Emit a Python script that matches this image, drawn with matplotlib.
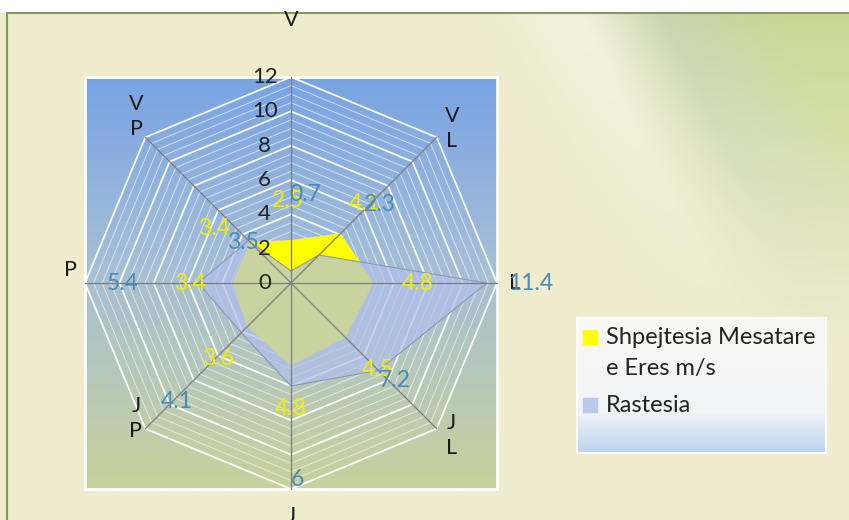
import numpy as np
import matplotlib.pyplot as plt
from matplotlib.patches import Rectangle

plt.rcParams['font.family'] = ['Lato', 'DejaVu Sans']

# wind rose data, clockwise from north
directions = ['V', 'VL', 'L', 'JL', 'J', 'JP', 'P', 'VP']
axis_labels = ['V', 'V\nL', 'L', 'J\nL', 'J', 'J\nP', 'P', 'V\nP']
speed = [2.5, 4.1, 4.8, 4.5, 4.8, 3.6, 3.4, 3.4]   # Shpejtesia Mesatare e Eres m/s
freq = [0.7, 2.3, 11.4, 7.2, 6, 4.1, 5.4, 3.5]     # Rastesia
r_ticks = [0, 2, 4, 6, 8, 10, 12]

# where the labels sit: (compass degrees, radius)
cat_pos = [(0, 15.3), (46.1, 13.0), (90, 13.0), (133.5, 12.9),
           (180, 13.6), (228.9, 12.0), (273.4, 12.85), (317.1, 13.25)]
speed_lab_pos = [(358, 4.83), (43, 6.3), (90, 7.4), (135, 7.15),
                 (180, 7.3), (224, 6.1), (270, 5.9), (305, 5.5)]
freq_lab_pos = [(9, 5.2), (48.4, 6.9), (90, 13.95), (133.3, 8.3),
                (178, 11.46), (224, 9.6), (270, 9.8), (310.5, 3.67)]

W, H = 849, 520
fig = plt.figure(figsize=(W / 100, H / 100), dpi=100)

# page background: cream with a greenish sheen top right
bg = fig.add_axes([0, 0, 1, 1])
yy, xx = np.mgrid[0:H, 0:W]
cream = np.array([238, 236, 205]) / 255
grey_green = np.array([198, 213, 175]) / 255
yel_green = np.array([200, 216, 148]) / 255
s = xx - 580 - 0.5 * (yy - 13)
fade = np.clip(1 - (yy - 13) / 330, 0, 1)[..., None]
g = np.clip(s / 80, 0, 1)[..., None] * fade
h = np.clip((s - 80) / 120, 0, 1)[..., None]
green = grey_green * (1 - h) + yel_green * h
band = (np.exp(-((s + 10) / 55) ** 2))[..., None] * fade
img = cream * (1 - g) + green * g
img = img * (1 - 0.3 * band) + 0.3 * band
img[:13] = 1
bg.imshow(img, extent=(0, W, H, 0), aspect='auto', interpolation='bilinear')
bg.plot([7, W], [13, 13], color='#86985a', lw=1.5)
bg.plot([7, 7], [13, H], color='#86985a', lw=1.5)

# legend box
top = np.array([0.975, 0.975, 0.965])
mid = np.array([0.95, 0.955, 0.96])
bot = np.array([0.74, 0.83, 0.94])
lt = np.linspace(0, 1, 64)
lcol = np.empty((64, 1, 3))
for i, v in enumerate(lt):
    if v < 0.7:
        lcol[i, 0] = top + (mid - top) * v / 0.7
    else:
        lcol[i, 0] = mid + (bot - mid) * (v - 0.7) / 0.3
bg.imshow(lcol, extent=(577, 826, 453, 318), aspect='auto', interpolation='bilinear')
bg.add_patch(Rectangle((577, 318), 249, 135, fill=False, ec='white', lw=1.5))
bg.add_patch(Rectangle((583, 330), 14, 14, color='#ffff00'))
bg.add_patch(Rectangle((583, 398), 14, 14, color='#b8c9ea'))
bg.text(606, 338, 'Shpejtesia Mesatare', va='center', fontsize=17, color='#222222')
bg.text(606, 368, 'e Eres m/s', va='center', fontsize=17, color='#222222')
bg.text(606, 405, 'Rastesia', va='center', fontsize=17, color='#222222')
bg.set_xlim(0, W)
bg.set_ylim(H, 0)
bg.axis('off')

# plot area gradient
cx, cy, R = 291, 283, 206
rect = [(cx - R) / W, 1 - (cy + R) / H, 2 * R / W, 2 * R / H]
pa = fig.add_axes(rect)
stops = [(0.0, (120, 163, 228)), (0.45, (165, 190, 215)), (1.0, (200, 210, 155))]
t = np.linspace(0, 1, 256)
grad = np.empty((256, 1, 3))
for k in range(3):
    grad[:, 0, k] = np.interp(t, [p for p, _ in stops], [c[k] / 255 for _, c in stops])
pa.imshow(grad, extent=(0, 1, 0, 1), aspect='auto', interpolation='bilinear')
pa.set_xticks([])
pa.set_yticks([])
for sp in pa.spines.values():
    sp.set_color('white')
    sp.set_linewidth(2)

# radar
ax = fig.add_axes(rect, projection='polar')
ax.set_theta_zero_location('N')
ax.set_theta_direction(-1)
ax.set_ylim(0, 12)
ax.axis('off')

angles = np.deg2rad(np.arange(len(directions)) * 45)
closed = np.append(angles, angles[0])

for r in np.arange(0.5, 12.01, 0.5):
    major = r % 2 == 0
    ax.plot(closed, [r] * len(closed), color='white',
            lw=1.3 if major else 0.7, alpha=0.95 if major else 0.6,
            zorder=1, clip_on=False)

ax.fill(closed, speed + speed[:1], color='#ffff00', lw=0, zorder=2)
ax.fill(closed, freq + freq[:1], facecolor=(0.69, 0.75, 0.93), alpha=0.68,
        lw=0, zorder=3)
ax.plot(closed, freq + freq[:1], color='#8a96b8', lw=0.8, zorder=4)

for a in angles:
    ax.plot([a, a], [0, 12], color='#7d7d7d', lw=0.9, zorder=4, clip_on=False)

for r in r_ticks:
    ax.annotate(str(r), xy=(0, r), xytext=(-19, 0), textcoords='offset points',
                ha='center', va='center', fontsize=16, color='#222222',
                zorder=5, annotation_clip=False)

for lab, (a, r) in zip(axis_labels, cat_pos):
    ax.text(np.deg2rad(a), r, lab, ha='center', va='center', fontsize=15.5,
            linespacing=1.3, color='#1a1a1a', clip_on=False, zorder=5)

for v, (a, r) in zip(speed, speed_lab_pos):
    ax.text(np.deg2rad(a), r, f'{v:g}', ha='center', va='center', fontsize=16.5,
            color='#f2f000', clip_on=False, zorder=6)

for v, (a, r) in zip(freq, freq_lab_pos):
    ax.text(np.deg2rad(a), r, f'{v:g}', ha='center', va='center', fontsize=16.5,
            color='#4a8ab8', clip_on=False, zorder=6)

fig.savefig('out.png', dpi=100)
